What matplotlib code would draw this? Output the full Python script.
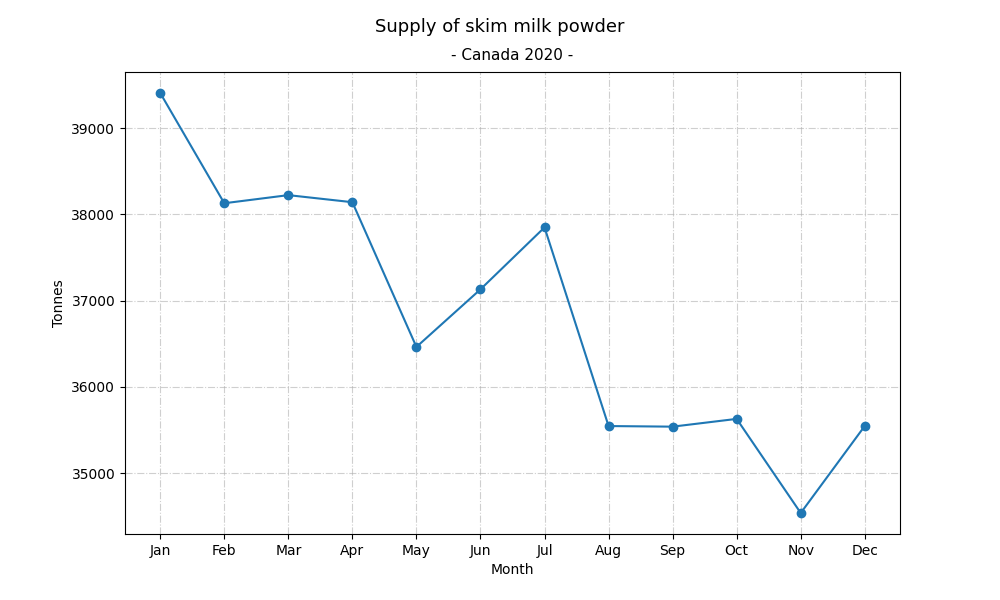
import matplotlib
matplotlib.use("Agg")
import matplotlib.pyplot as plt

months = ["Jan", "Feb", "Mar", "Apr", "May", "Jun", "Jul", "Aug", "Sep", "Oct", "Nov", "Dec"]
tonnes = [39406, 38128, 38222, 38140, 36462, 37130, 37848, 35545, 35538, 35628, 34537, 35546]

fig, ax = plt.subplots(figsize=(10, 6), dpi=100)
ax.plot(months, tonnes, marker="o", color="#1f77b4")
fig.suptitle("Supply of skim milk powder", fontsize=13, y=0.97)
ax.set_title("- Canada 2020 -", fontsize=11, pad=9)
ax.set_xlabel("Month")
ax.set_ylabel("Tonnes")
ax.grid(True, linestyle="-.", alpha=0.6)
fig.savefig("out.png")
